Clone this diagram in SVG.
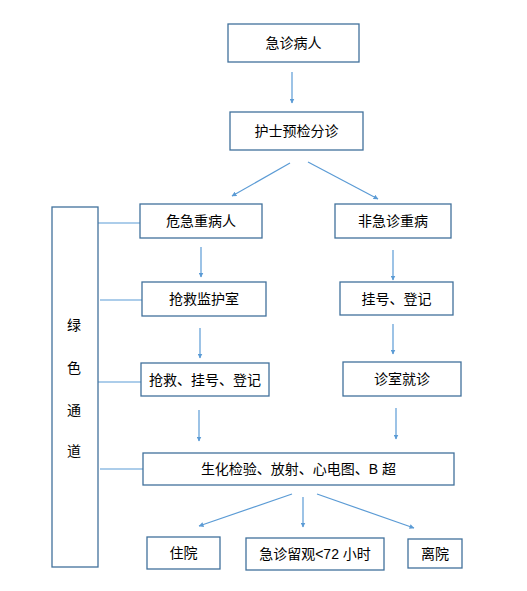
<svg xmlns="http://www.w3.org/2000/svg" width="527" height="591" viewBox="0 0 527 591">
<defs>
<style>
.box{fill:#fff;stroke:#41719C;stroke-width:1.3}
.t{font-family:"Liberation Sans","Noto Sans CJK SC",sans-serif;font-size:14px;fill:#000;text-anchor:middle;dominant-baseline:central}
.c{stroke:#5B9BD5;stroke-width:1.2;fill:none}
.a{marker-end:url(#ah)}
</style>
<marker id="ah" viewBox="0 0 10 10" refX="9" refY="5" markerWidth="5" markerHeight="5" orient="auto" markerUnits="userSpaceOnUse">
<path d="M0,0 L10,5 L0,10 z" fill="#5B9BD5"/>
</marker>
</defs>
<rect width="527" height="591" fill="#fff"/>
<g id="connectors">
<line class="c a" x1="292" y1="72" x2="292" y2="103"/>
<line class="c a" x1="290" y1="163" x2="232" y2="196"/>
<line class="c a" x1="308" y1="162" x2="378" y2="199"/>
<line class="c a" x1="201" y1="247" x2="201" y2="277"/>
<line class="c a" x1="200" y1="328" x2="200" y2="358"/>
<line class="c a" x1="393" y1="250" x2="393" y2="280"/>
<line class="c a" x1="393" y1="324" x2="393" y2="354"/>
<line class="c a" x1="199" y1="410" x2="199" y2="441"/>
<line class="c a" x1="396" y1="408" x2="396" y2="439"/>
<line class="c a" x1="292" y1="494" x2="199" y2="526"/>
<line class="c a" x1="303" y1="497" x2="303" y2="527"/>
<line class="c a" x1="317" y1="494" x2="414" y2="528"/>
<line class="c" x1="98" y1="223" x2="140" y2="223"/>
<line class="c" x1="100" y1="300" x2="142" y2="300"/>
<line class="c" x1="98" y1="382" x2="141" y2="382"/>
<line class="c" x1="100" y1="469" x2="143" y2="469"/>
</g>
<g id="n1"><rect class="box" x="228" y="24" width="131" height="38"/><text class="t" x="293.5" y="43">急诊病人</text></g>
<g id="n2"><rect class="box" x="230" y="112" width="133" height="38"/><text class="t" x="296.5" y="131">护士预检分诊</text></g>
<g id="green"><rect class="box" x="52" y="207" width="46" height="360"/>
<text class="t" x="74" y="325">绿</text><text class="t" x="74" y="368">色</text><text class="t" x="74" y="410">通</text><text class="t" x="74" y="451">道</text></g>
<g id="n3"><rect class="box" x="140" y="204" width="122" height="34"/><text class="t" x="201" y="221">危急重病人</text></g>
<g id="n4"><rect class="box" x="142" y="282" width="124" height="34"/><text class="t" x="204" y="299">抢救监护室</text></g>
<g id="n5"><rect class="box" x="141" y="363" width="128" height="33"/><text class="t" x="205" y="379.5">抢救、挂号、登记</text></g>
<g id="n6"><rect class="box" x="335" y="204" width="116" height="34"/><text class="t" x="393" y="221">非急诊重病</text></g>
<g id="n7"><rect class="box" x="340" y="282" width="113" height="33"/><text class="t" x="396.5" y="298.5">挂号、登记</text></g>
<g id="n8"><rect class="box" x="343" y="362" width="118" height="34"/><text class="t" x="402" y="379">诊室就诊</text></g>
<g id="n9"><rect class="box" x="143" y="453" width="311" height="32"/><text class="t" x="298.5" y="469">生化检验、放射、心电图、B 超</text></g>
<g id="n10"><rect class="box" x="147" y="537" width="73" height="32"/><text class="t" x="183.5" y="553">住院</text></g>
<g id="n11"><rect class="box" x="246" y="538" width="138" height="32"/><text class="t" x="315" y="554">急诊留观&lt;72 小时</text></g>
<g id="n12"><rect class="box" x="408" y="539" width="54" height="29"/><text class="t" x="435" y="553.5">离院</text></g>
</svg>
